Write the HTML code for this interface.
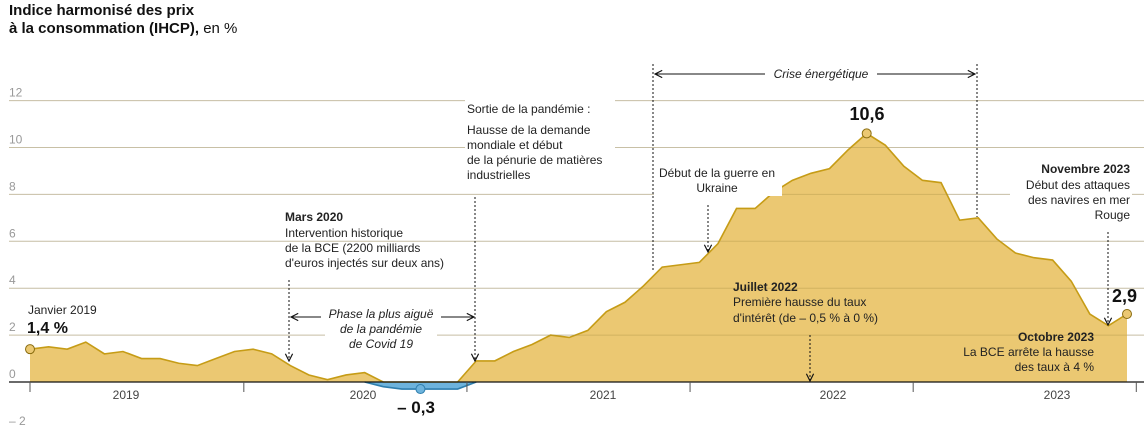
<!DOCTYPE html>
<html><head><meta charset="utf-8">
<style>
body{margin:0;background:#fff;}
svg{display:block;font-family:"Liberation Sans",sans-serif;}
.ann{font-size:12px;fill:#222;}
.b{font-weight:bold;}
.tick{font-size:12px;fill:#999;}
</style></head>
<body>
<svg id="chart" width="1144" height="429" viewBox="0 0 1144 429" xmlns="http://www.w3.org/2000/svg">
<defs>
<marker id="ah" viewBox="0 0 10 10" refX="9" refY="5" markerWidth="9" markerHeight="9" orient="auto-start-reverse"><path d="M1,1 L9,5 L1,9" fill="none" stroke="#111" stroke-width="1.3"/></marker>
</defs>
<text x="9" y="15" font-size="15" font-weight="bold" fill="#111">Indice harmonisé des prix</text>
<text x="9" y="33" font-size="15" fill="#111"><tspan font-weight="bold">à la consommation (IHCP),</tspan> en %</text>
<g id="grid"></g>
<g id="area"></g>
<g id="gridover"></g>
<g id="xaxis"></g>
<g id="ann">
<text class="ann" x="28" y="314">Janvier 2019</text>
<text class="b" x="27" y="333" font-size="16" fill="#111">1,4 %</text>
<text class="ann b" x="285" y="221">Mars 2020</text>
<text class="ann" x="285" y="237">Intervention historique</text>
<text class="ann" x="285" y="252">de la BCE (2200 milliards</text>
<text class="ann" x="285" y="267">d'euros injectés sur deux ans)</text>
<line x1="289" y1="280" x2="289" y2="361" stroke="#111" stroke-dasharray="2,2" marker-end="url(#ah)"/>
<rect x="325" y="305" width="112" height="46" fill="#fff"/>
<text class="ann" font-style="italic" text-anchor="middle" x="381" y="318">Phase la plus aiguë</text>
<text class="ann" font-style="italic" text-anchor="middle" x="381" y="333">de la pandémie</text>
<text class="ann" font-style="italic" text-anchor="middle" x="381" y="348">de Covid 19</text>
<line x1="321" y1="317" x2="291" y2="317" stroke="#111" marker-end="url(#ah)"/>
<line x1="441" y1="317" x2="474" y2="317" stroke="#111" marker-end="url(#ah)"/>
<line x1="475" y1="197" x2="475" y2="361" stroke="#111" stroke-dasharray="2,2" marker-end="url(#ah)"/>
<rect x="465" y="100" width="150" height="85" fill="#fff"/>
<text class="ann" x="467" y="113">Sortie de la pandémie :</text>
<text class="ann" x="467" y="134">Hausse de la demande</text>
<text class="ann" x="467" y="149">mondiale et début</text>
<text class="ann" x="467" y="164">de la pénurie de matières</text>
<text class="ann" x="467" y="179">industrielles</text>
<line x1="653" y1="64" x2="653" y2="272" stroke="#111" stroke-dasharray="2,2"/>
<line x1="977" y1="64" x2="977" y2="217" stroke="#111" stroke-dasharray="2,2"/>
<line x1="765" y1="74" x2="655" y2="74" stroke="#111" marker-end="url(#ah)"/>
<line x1="877" y1="74" x2="975" y2="74" stroke="#111" marker-end="url(#ah)"/>
<text class="ann" font-style="italic" text-anchor="middle" x="821" y="78">Crise énergétique</text>
<rect x="654" y="164" width="128" height="32" fill="#fff"/>
<text class="ann" text-anchor="middle" x="717" y="177">Début de la guerre en</text>
<text class="ann" text-anchor="middle" x="717" y="192">Ukraine</text>
<line x1="708" y1="205" x2="708" y2="252" stroke="#111" stroke-dasharray="2,2" marker-end="url(#ah)"/>
<text class="b" text-anchor="middle" x="867" y="120" font-size="18" fill="#111">10,6</text>
<text class="ann b" x="733" y="291">Juillet 2022</text>
<text class="ann" x="733" y="306">Première hausse du taux</text>
<text class="ann" x="733" y="322">d'intérêt (de – 0,5 % à 0 %)</text>
<line x1="810" y1="335" x2="810" y2="381" stroke="#111" stroke-dasharray="2,2" marker-end="url(#ah)"/>
<rect x="1010" y="160" width="122" height="62" fill="#fff"/>
<text class="ann b" text-anchor="end" x="1130" y="173">Novembre 2023</text>
<text class="ann" text-anchor="end" x="1130" y="189">Début des attaques</text>
<text class="ann" text-anchor="end" x="1130" y="204">des navires en mer</text>
<text class="ann" text-anchor="end" x="1130" y="219">Rouge</text>
<line x1="1108" y1="232" x2="1108" y2="325" stroke="#111" stroke-dasharray="2,2" marker-end="url(#ah)"/>
<text class="b" x="1112" y="302" font-size="18" fill="#111">2,9</text>
<text class="ann b" text-anchor="end" x="1094" y="341">Octobre 2023</text>
<text class="ann" text-anchor="end" x="1094" y="356">La BCE arrête la hausse</text>
<text class="ann" text-anchor="end" x="1094" y="371">des taux à 4 %</text>
<text class="b" text-anchor="middle" x="416" y="413" font-size="17" fill="#111">– 0,3</text>
</g>
<g id="dots"></g>
</svg>
<script>
const months = ["2019-01","2019-02","2019-03","2019-04","2019-05","2019-06","2019-07","2019-08","2019-09","2019-10","2019-11","2019-12","2020-01","2020-02","2020-03","2020-04","2020-05","2020-06","2020-07","2020-08","2020-09","2020-10","2020-11","2020-12","2021-01","2021-02","2021-03","2021-04","2021-05","2021-06","2021-07","2021-08","2021-09","2021-10","2021-11","2021-12","2022-01","2022-02","2022-03","2022-04","2022-05","2022-06","2022-07","2022-08","2022-09","2022-10","2022-11","2022-12","2023-01","2023-02","2023-03","2023-04","2023-05","2023-06","2023-07","2023-08","2023-09","2023-10","2023-11","2023-12"];
const hicp = [1.4,1.5,1.4,1.7,1.2,1.3,1.0,1.0,0.8,0.7,1.0,1.3,1.4,1.2,0.7,0.3,0.1,0.3,0.4,-0.2,-0.3,-0.3,-0.3,-0.3,0.9,0.9,1.3,1.6,2.0,1.9,2.2,3.0,3.4,4.1,4.9,5.0,5.1,5.9,7.4,7.4,8.1,8.6,8.9,9.1,9.9,10.6,10.1,9.2,8.6,8.5,6.9,7.0,6.1,5.5,5.3,5.2,4.3,2.9,2.4,2.9];
const yTicks = [12,10,8,6,4,2,0,-2];
const yTickLabels = ["12","10","8","6","4","2","0","– 2"];
const years = ["2019","2020","2021","2022","2023"];
const highlightIdx = [0,21,45,59];

const NS="http://www.w3.org/2000/svg";
const x = i => 30 + i*(1097/59);
const y = v => 382 - v*23.45;
function mk(tag, attrs, parent){const e=document.createElementNS(NS,tag);for(const k in attrs)e.setAttribute(k,attrs[k]);parent.appendChild(e);return e;}
const grid=document.getElementById('grid'), over=document.getElementById('gridover');
yTicks.forEach((t,i)=>{
  if(t!==0 && t>-2){
    const l=mk('line',{x1:9,x2:1144,y1:y(t),y2:y(t),stroke:'#ddd','stroke-width':1},grid);
    
    
    const l2=mk('line',{x1:9,x2:1144,y1:y(t),y2:y(t),stroke:'#a08a40','stroke-opacity':0.35,'stroke-width':1},over);
    
    
  }
  const tx=mk('text',{x:9,y:y(t)-4,'class':'tick'},grid);
  tx.textContent=yTickLabels[i];
  
  
});
const area=document.getElementById('area');
// positive area (clip values at 0)
let pPos='M'+x(0)+','+y(0), pNeg='M'+x(0)+','+y(0);
hicp.forEach((v,i)=>{pPos+=' L'+x(i)+','+y(Math.max(v,0));pNeg+=' L'+x(i)+','+y(Math.min(v,0));});
pPos+=' L'+x(hicp.length-1)+','+y(0)+' Z';
pNeg+=' L'+x(hicp.length-1)+','+y(0)+' Z';
const ap=mk('path',{d:pPos,fill:'#ebc872'},area);


const an=mk('path',{d:pNeg,fill:'#6db3dc'},area);


let lp='', ln='';
hicp.forEach((v,i)=>{lp+=(i?' L':'M')+x(i)+','+y(Math.max(v,0));});
const line=mk('path',{d:lp,fill:'none',stroke:'#c69c16','stroke-width':1.6},area);


let first=-1,last=-1;hicp.forEach((v,i)=>{if(v<0){if(first<0)first=i;last=i;}});
if(first>=0){
  let d='M'+x(first-1)+','+y(0);
  for(let i=first;i<=last;i++)d+=' L'+x(i)+','+y(hicp[i]);
  d+=' L'+x(last+1)+','+y(0);
  const nl=mk('path',{d:d,fill:'none',stroke:'#2f7fae','stroke-width':1.6},area);
  
  
}
const xa=document.getElementById('xaxis');
const zl=mk('line',{x1:9,x2:1144,y1:y(0),y2:y(0),stroke:'#111','stroke-width':1.3},xa);


const tickIdx=[0,11.5,23.5,35.5,47.5,59.5];
tickIdx.forEach(ti=>{
  const t=mk('line',{x1:x(ti),x2:x(ti),y1:y(0),y2:y(0)+10,stroke:'#555','stroke-width':1},xa);
  
  
});
const yearPos=[126,363,603,833,1057];
years.forEach((yr,i)=>{
  const t=mk('text',{x:yearPos[i],y:399,'text-anchor':'middle','font-size':12,fill:'#444'},xa);
  t.textContent=yr;
  
  
});
const dots=document.getElementById('dots');
highlightIdx.forEach(i=>{
  const neg=hicp[i]<0;
  const c=mk('circle',{cx:x(i),cy:y(hicp[i]),r:4.5,fill:neg?'#6db3dc':'#ebc872',stroke:neg?'#2f7fae':'#8a6d10','stroke-width':1},dots);
  
  
});
</script>
</body></html>
